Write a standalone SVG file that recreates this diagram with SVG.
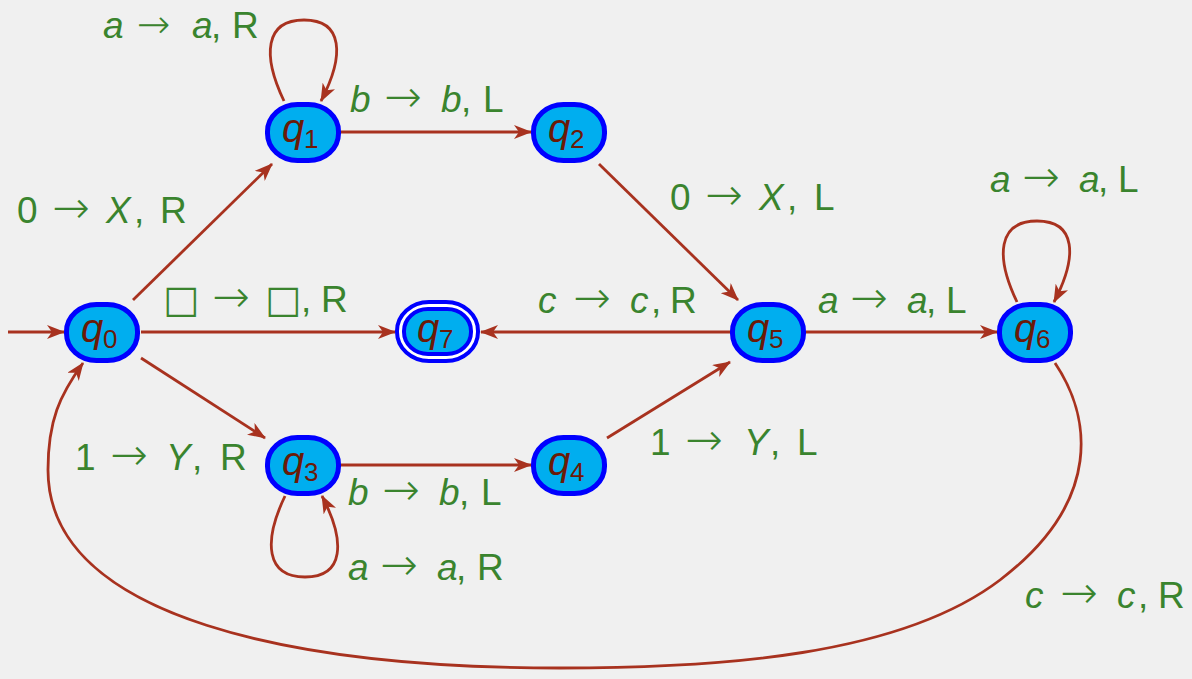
<svg xmlns="http://www.w3.org/2000/svg" width="1192" height="679" viewBox="0 0 1192 679">
<defs>
<marker id="ah" markerWidth="18" markerHeight="14" refX="17" refY="7" orient="auto" markerUnits="userSpaceOnUse">
<path d="M0,0 L18,7 L0,14 L5,7 z" fill="#a8321f"/>
</marker>
<style>
.node rect{fill:#00aeef;stroke:#0000ff;stroke-width:5}
.node text{font-family:"Liberation Sans",sans-serif;fill:#6b1a08}
.q{font-style:italic;font-size:40px}
.sub{font-size:26px}
.edge{fill:none;stroke:#a8321f;stroke-width:2.8;marker-end:url(#ah)}
.lbl{font-family:"Liberation Sans",sans-serif;font-size:37px;fill:#3a842e}
.i{font-style:italic}
.box{font-family:"DejaVu Sans",sans-serif;font-size:38px}
.ar{font-family:"DejaVu Sans",sans-serif;font-size:45px;font-weight:200}
.ars{font-family:"DejaVu Sans",sans-serif;font-size:40px;font-weight:200}
</style>
</defs>
<rect width="1192" height="679" fill="#f0f0f0"/>
<g id="connectors">
<path class="edge" d="M8,332 L64,332"/>
<path class="edge" d="M133,300 L272,164"/>
<path class="edge" d="M341,132 L531,132"/>
<path class="edge" d="M599,164 L738,300"/>
<path class="edge" d="M141,332 L395,332"/>
<path class="edge" d="M731,332 L481,332"/>
<path class="edge" d="M806,332 L997,332"/>
<path class="edge" d="M141,358 L265,438"/>
<path class="edge" d="M341,465 L531,465"/>
<path class="edge" d="M607,438 L730,362"/>
<path class="edge" d="M284,101 C262,55 265,20 304,20 C343,20 345,55 321,101"/>
<path class="edge" d="M1017,302 C995,256 998,221 1037,221 C1076,221 1078,256 1054,302"/>
<path class="edge" d="M285,496 C263,542 266,577 305,577 C344,577 346,542 322,496"/>
<path class="edge" d="M1055,363 C1090,415 1105,500 1000,580 C900,656 720,668 560,668 C300,668 48,620 48,470 C48,420 60,395 83,363"/>
</g>
<g id="q0" class="node"><rect x="66.5" y="304.5" width="71" height="56" rx="30" ry="27"/><text y="342"><tspan class="q" x="81">q</tspan><tspan class="sub" x="103" y="348">0</tspan></text></g>
<g id="q1" class="node"><rect x="267.5" y="104.5" width="71" height="56" rx="30" ry="27"/><text y="142"><tspan class="q" x="282">q</tspan><tspan class="sub" x="304" y="148">1</tspan></text></g>
<g id="q2" class="node"><rect x="533.5" y="104.5" width="71" height="56" rx="30" ry="27"/><text y="142"><tspan class="q" x="548">q</tspan><tspan class="sub" x="570" y="148">2</tspan></text></g>
<g id="q3" class="node"><rect x="267.5" y="437.5" width="71" height="56" rx="30" ry="27"/><text y="475"><tspan class="q" x="282">q</tspan><tspan class="sub" x="304" y="481">3</tspan></text></g>
<g id="q4" class="node"><rect x="533.5" y="437.5" width="71" height="56" rx="30" ry="27"/><text y="475"><tspan class="q" x="548">q</tspan><tspan class="sub" x="570" y="481">4</tspan></text></g>
<g id="q5" class="node"><rect x="732.5" y="304.5" width="71" height="56" rx="30" ry="27"/><text y="342"><tspan class="q" x="747">q</tspan><tspan class="sub" x="769" y="348">5</tspan></text></g>
<g id="q6" class="node"><rect x="999.5" y="304.5" width="71" height="56" rx="30" ry="27"/><text y="342"><tspan class="q" x="1014">q</tspan><tspan class="sub" x="1036" y="348">6</tspan></text></g>
<g id="q7" class="node"><rect x="397" y="302" width="81" height="59" rx="32" ry="29" style="fill:#ffffff;stroke-width:4"/><rect x="404" y="309" width="67" height="45" rx="24" ry="22" style="stroke-width:4"/><text y="342"><tspan class="q" x="417">q</tspan><tspan class="sub" x="439" y="348">7</tspan></text></g>
<g id="labels">
<text class="lbl" y="38"><tspan class="i" x="103">a</tspan><tspan class="ars" x="137">→</tspan><tspan class="i" x="192">a</tspan><tspan x="211">,</tspan><tspan x="232">R</tspan></text>
<text class="lbl" y="112"><tspan class="i" x="350">b</tspan><tspan class="ar" x="384">→</tspan><tspan class="i" x="441">b</tspan><tspan x="461">,</tspan><tspan x="483">L</tspan></text>
<text class="lbl" y="223"><tspan x="17">0</tspan><tspan class="ar" x="52">→</tspan><tspan class="i" x="106">X</tspan><tspan x="134">,</tspan><tspan x="160">R</tspan></text>
<text class="lbl" y="210"><tspan x="670">0</tspan><tspan class="ar" x="705">→</tspan><tspan class="i" x="759">X</tspan><tspan x="787">,</tspan><tspan x="814">L</tspan></text>
<text class="lbl" y="312"><tspan class="box" x="163">□</tspan><tspan class="ar" x="212">→</tspan><tspan class="box" x="265">□</tspan><tspan x="301">,</tspan><tspan x="321">R</tspan></text>
<text class="lbl" y="313"><tspan class="i" x="538">c</tspan><tspan class="ar" x="573">→</tspan><tspan class="i" x="630">c</tspan><tspan x="651">,</tspan><tspan x="670">R</tspan></text>
<text class="lbl" y="313"><tspan class="i" x="818">a</tspan><tspan class="ar" x="850">→</tspan><tspan class="i" x="907">a</tspan><tspan x="926">,</tspan><tspan x="946">L</tspan></text>
<text class="lbl" y="192"><tspan class="i" x="990">a</tspan><tspan class="ar" x="1022">→</tspan><tspan class="i" x="1079">a</tspan><tspan x="1098">,</tspan><tspan x="1118">L</tspan></text>
<text class="lbl" y="470"><tspan x="75">1</tspan><tspan class="ar" x="110">→</tspan><tspan class="i" x="166">Y</tspan><tspan x="192">,</tspan><tspan x="220">R</tspan></text>
<text class="lbl" y="505"><tspan class="i" x="348">b</tspan><tspan class="ar" x="382">→</tspan><tspan class="i" x="439">b</tspan><tspan x="459">,</tspan><tspan x="481">L</tspan></text>
<text class="lbl" y="455"><tspan x="650">1</tspan><tspan class="ar" x="685">→</tspan><tspan class="i" x="744">Y</tspan><tspan x="770">,</tspan><tspan x="797">L</tspan></text>
<text class="lbl" y="580"><tspan class="i" x="348">a</tspan><tspan class="ar" x="380">→</tspan><tspan class="i" x="437">a</tspan><tspan x="456">,</tspan><tspan x="477">R</tspan></text>
<text class="lbl" y="608"><tspan class="i" x="1025">c</tspan><tspan class="ar" x="1060">→</tspan><tspan class="i" x="1117">c</tspan><tspan x="1138">,</tspan><tspan x="1158">R</tspan></text>
</g>
</svg>
